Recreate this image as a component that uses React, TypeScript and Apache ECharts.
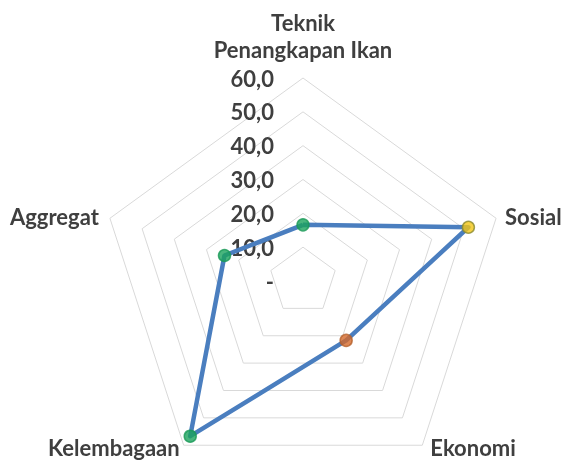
import React, { useEffect, useRef } from "react";
import * as echarts from "echarts";

// Clockwise order as in the reference (starting at top)
const categories = ["Teknik\nPenangkapan Ikan", "Sosial", "Ekonomi", "Kelembagaan", "Aggregat"];
const values = [16.6, 51.4, 21.7, 56.7, 24.4];
const markerColors = ["#1aa35c", "#f2c515", "#d5692a", "#1aa35c", "#1aa35c"];
const markerBorders = ["#1a9a58", "#8a8a30", "#b5602a", "#1a9a58", "#1a9a58"];
const axisMax = 60;
const axisInterval = 10;

const FONT = "Lato, 'Open Sans', sans-serif";
const FONT_SIZE = 22;
const TEXT_COLOR = "#3f3f3f";

// label placement relative to each vertex: [dx, dy, align, verticalAlign]
const nameOffsets: [number, number, string, string][] = [
  [0, -15, "center", "bottom"],
  [9, -2, "left", "middle"],
  [8, 2, "left", "middle"],
  [-4, 2, "right", "middle"],
  [-11, -2, "right", "middle"],
];

export default function App() {
  const ref = useRef<HTMLDivElement>(null);
  useEffect(() => {
    if (!ref.current) return;
    const chart = echarts.init(ref.current, null, { renderer: "svg" });
    // ECharts radar lays indicators counter-clockwise; reorder so the picture is clockwise
    const ccwIdx = [0, 4, 3, 2, 1];
    const indicator = ccwIdx.map((i, k) => ({
      name: categories[i],
      max: axisMax,
      min: 0,
      ...(k === 0
        ? {
            axisLabel: {
              show: true,
              margin: 29,
              fontFamily: FONT,
              fontWeight: "bold",
              fontSize: FONT_SIZE,
              color: TEXT_COLOR,
              formatter: (v: number) => (v === 0 ? "-" : v.toFixed(1).replace(".", ",")),
            },
          }
        : {}),
    }));
    const center = [303, 281];
    const radius = 203;
    const nameTexts = categories.map((name, i) => {
      const a = ((90 - 72 * i) * Math.PI) / 180;
      const vx = center[0] + radius * Math.cos(a);
      const vy = center[1] - radius * Math.sin(a);
      const [dx, dy, align, va] = nameOffsets[i];
      return {
        type: "text",
        x: vx + dx,
        y: vy + dy,
        style: {
          text: name,
          fill: TEXT_COLOR,
          font: `bold ${FONT_SIZE}px ${FONT}`,
          align,
          verticalAlign: va,
          lineHeight: 27,
        },
      };
    });
    chart.setOption({
      animation: false,
      radar: {
        center,
        radius,
        splitNumber: axisMax / axisInterval,
        indicator,
        shape: "polygon",
        axisLine: { show: false },
        axisTick: { show: false },
        splitArea: { show: false },
        splitLine: { lineStyle: { color: "#d9d9d9", width: 1 } },
        axisLabel: { show: false },
        axisName: { show: false },
      },
      polar: { center, radius },
      angleAxis: {
        type: "category",
        data: categories,
        boundaryGap: false,
        startAngle: 90,
        clockwise: true,
        show: false,
      },
      radiusAxis: { min: 0, max: axisMax, show: false },
      graphic: nameTexts,
      series: [
        {
          type: "radar",
          symbol: "none",
          lineStyle: { color: "#4a7ebf", width: 4.5 },
          data: [{ value: ccwIdx.map((i) => values[i]) }],
        },
        {
          type: "scatter",
          coordinateSystem: "polar",
          symbolSize: 12,
          data: values.map((v, i) => ({
            value: [v, i],
            itemStyle: { color: markerColors[i], borderColor: markerBorders[i], borderWidth: 1.5 },
          })),
        },
      ],
    });
    return () => chart.dispose();
  }, []);
  return <div ref={ref} style={{ position: "fixed", left: 0, top: 0, width: 562, height: 461 }} />;
}
